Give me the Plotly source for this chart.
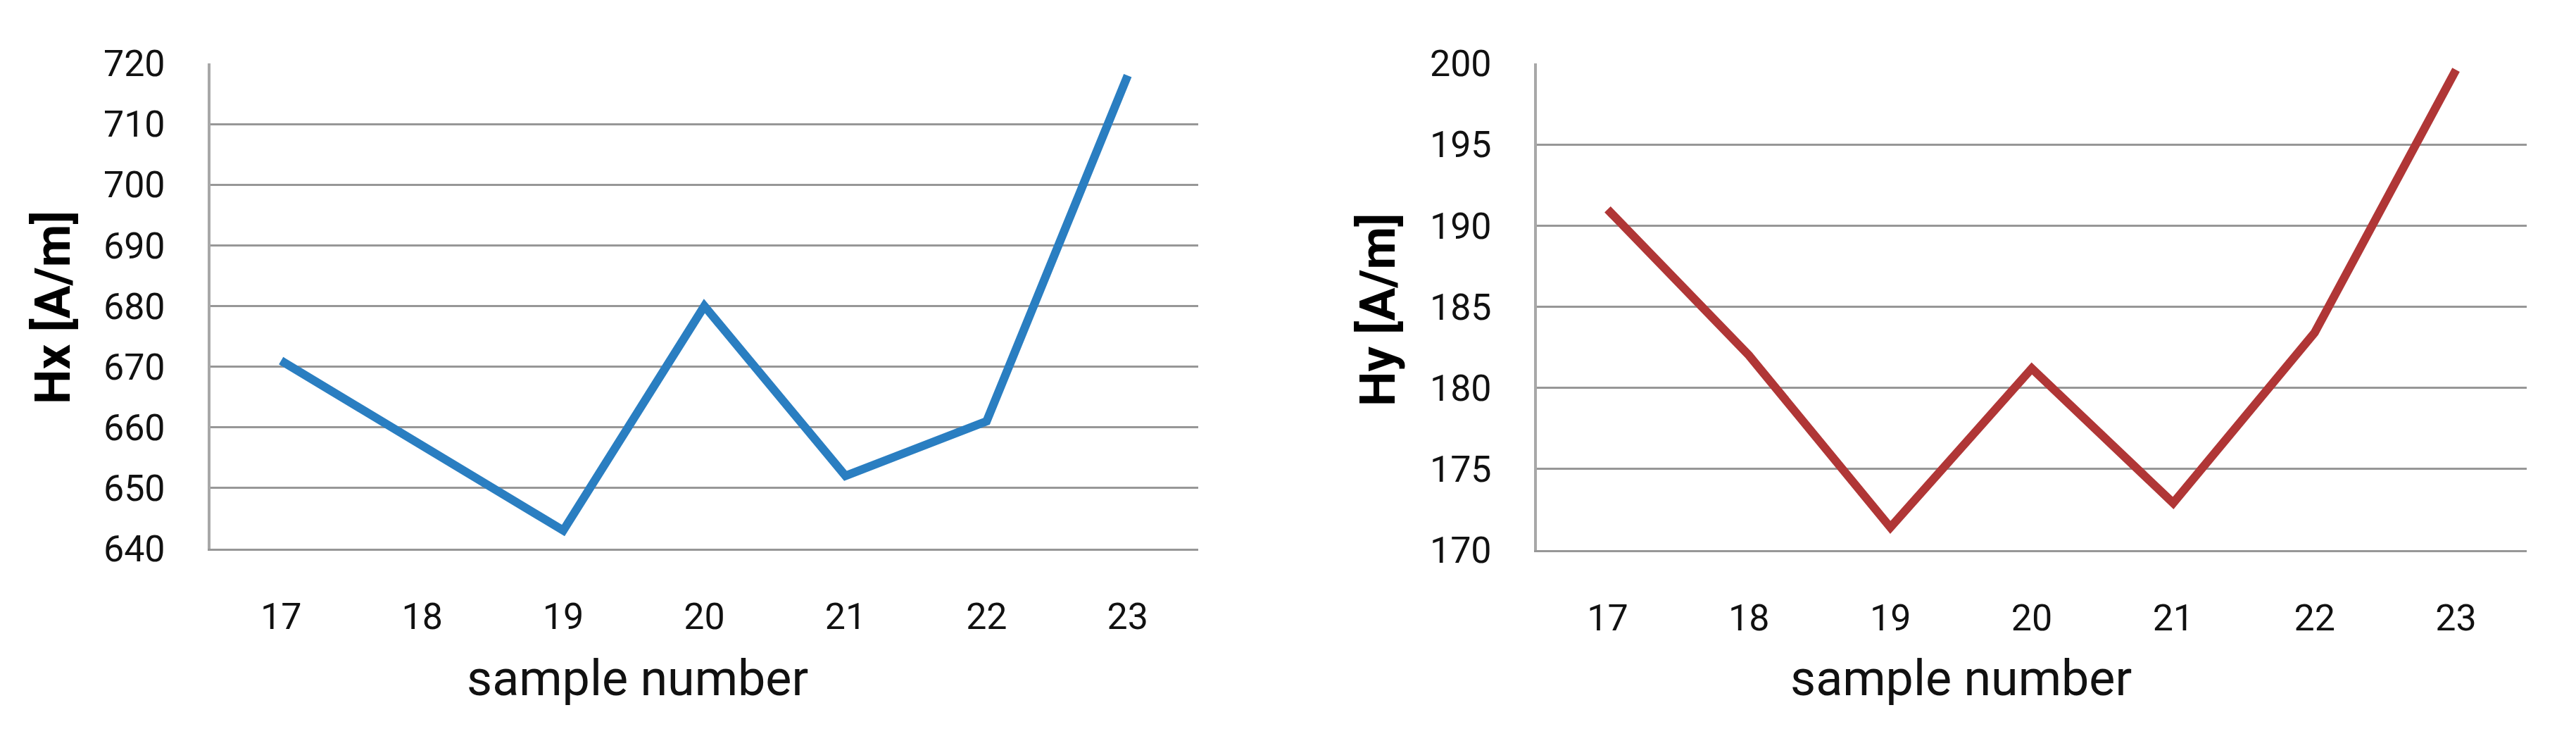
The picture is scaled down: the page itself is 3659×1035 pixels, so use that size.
import plotly.graph_objects as go

# sample numbers shared by both charts
samples = ["17", "18", "19", "20", "21", "22", "23"]

# field strength readings [A/m]
hx_values = [671, 657, 643, 680, 652, 661, 718]
hy_values = [191, 182, 171.4, 181.2, 172.9, 183.4, 199.6]

hx_ticks = [640, 650, 660, 670, 680, 690, 700, 710, 720]
hy_ticks = [170, 175, 180, 185, 190, 195, 200]

W, H = 3659, 1035
OFF = 8  # page body margin shifts the whole figure
FONT = "Roboto, 'Liberation Sans', sans-serif"
GRID = "#979797"
AXIS = "#a8a8a8"


def px(v):
    return (v - OFF) / W


def py(v):
    return 1 - (v - OFF) / H


fig = go.Figure()

fig.add_trace(go.Scatter(
    x=samples, y=hx_values, mode="lines",
    line=dict(color="#2a7ec1", width=12),
    xaxis="x", yaxis="y", showlegend=False,
))
fig.add_trace(go.Scatter(
    x=samples, y=hy_values, mode="lines",
    line=dict(color="#b03636", width=12),
    xaxis="x2", yaxis="y2", showlegend=False,
))

x_common = dict(
    type="category", range=[-0.5, 6.5], automargin=False,
    showgrid=False, showline=True, linecolor=GRID, linewidth=3,
    ticks="", ticklabelstandoff=49,
    tickfont=dict(family=FONT, size=52, color="#111111"),
    zeroline=False,
)
y_common = dict(
    automargin=False,
    showgrid=True, gridcolor=GRID, gridwidth=3,
    showline=True, linecolor=AXIS, linewidth=4,
    ticks="", ticklabelstandoff=50,
    tickfont=dict(family=FONT, size=52, color="#111111"),
    zeroline=False,
)

fig.update_layout(
    width=W, height=H,
    margin=dict(l=0, r=0, t=0, b=0, pad=0, autoexpand=False),
    paper_bgcolor="white", plot_bgcolor="white",
    xaxis=dict(domain=[px(299), px(1702)], anchor="y", **x_common),
    yaxis=dict(domain=[py(779), py(90)], anchor="x",
               range=[640, 720], tickvals=hx_ticks, **y_common),
    xaxis2=dict(domain=[px(2183), px(3589)], anchor="y2", **x_common),
    yaxis2=dict(domain=[py(781), py(90)], anchor="x2",
                range=[170, 200], tickvals=hy_ticks, **y_common),
    annotations=[
        dict(text="sample number", xref="paper", yref="paper",
             x=px(905), y=py(963), xanchor="center", yanchor="middle",
             showarrow=False, font=dict(family=FONT, size=70, color="#111111")),
        dict(text="sample number", xref="paper", yref="paper",
             x=px(2785), y=py(963), xanchor="center", yanchor="middle",
             showarrow=False, font=dict(family=FONT, size=70, color="#111111")),
        dict(text="Hx [A/m]", xref="paper", yref="paper",
             x=px(75), y=py(437), xanchor="center", yanchor="middle",
             textangle=-90, showarrow=False,
             font=dict(family=FONT, size=70, color="#000000", weight="bold")),
        dict(text="Hy [A/m]", xref="paper", yref="paper",
             x=px(1957), y=py(440), xanchor="center", yanchor="middle",
             textangle=-90, showarrow=False,
             font=dict(family=FONT, size=70, color="#000000", weight="bold")),
    ],
)

fig.write_html("out.html")
